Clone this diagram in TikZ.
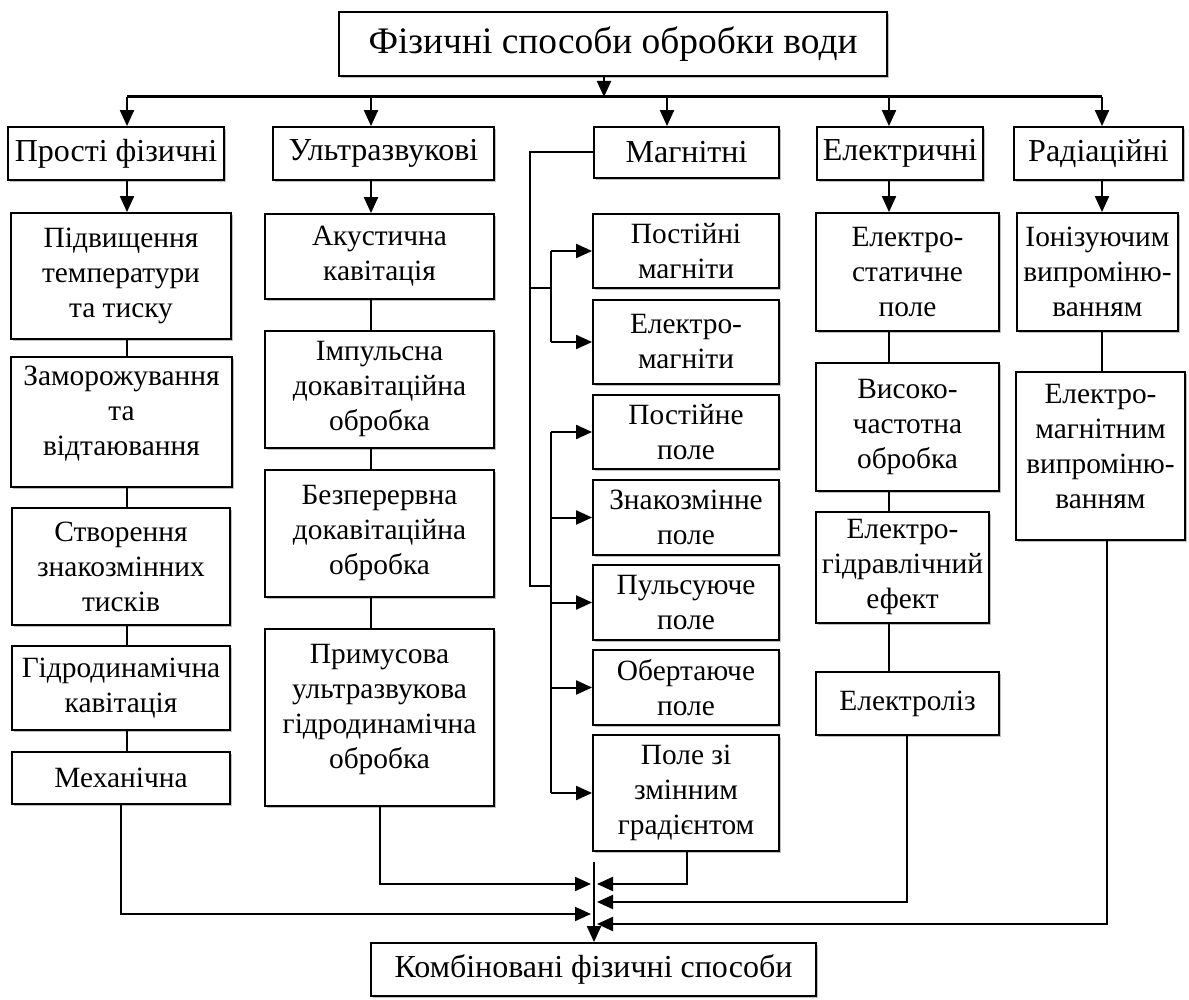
\documentclass[tikz,border=0pt]{standalone}
\usepackage{fontspec}
\setmainfont{Liberation Serif}
\usetikzlibrary{arrows.meta,shadows}
\tikzset{
  bx/.style={draw, line width=0.9pt, fill=white, inner sep=0pt, align=center,
    font=\fontsize{14.7}{17.5}\selectfont,
    drop shadow={shadow xshift=0.9pt, shadow yshift=-0.9pt, fill=black!50, opacity=0.5}},
  topfont/.style={font=\fontsize{16}{19}\selectfont},
  ln/.style={line width=1pt},
  arr/.style={line width=1pt, -{Triangle[length=8pt,width=7pt]}},
}
% #1 extra style, #2 name, #3..#6 corners in px, #7 text
\newcommand\mybox[7][]{%
  \pgfmathsetmacro\bw{(#5-#3)*0.5}%
  \pgfmathsetmacro\bh{(#6-#4)*0.5}%
  \node[bx,#1,minimum width=\bw pt,minimum height=\bh pt] (#2) at ({(#3+#5)/2},{(#4+#6)/2}) {#7};}
\begin{document}
\begin{tikzpicture}[x=0.5pt,y=-0.5pt]
\useasboundingbox (0,0) rectangle (1189,1000);

% title
\mybox[font=\fontsize{18.7}{22}\selectfont]{title}{339}{12}{887}{76}{Фізичні способи обробки води}

% top row
\mybox[topfont]{p}{8}{127}{224}{180}{Прості фізичні}
\mybox[topfont]{u}{273}{127}{494}{180}{Ультразвукові}
\mybox[topfont]{m}{594}{127}{779}{178}{Магнітні}
\mybox[topfont]{e}{817}{127}{983}{180}{Електричні}
\mybox[topfont]{r}{1014}{127}{1183}{180}{Радіаційні}

% simple physical
\mybox{p1}{11}{213}{231}{339}{Підвищення\\температури\\та тиску}
\mybox{p2}{11}{357}{232}{487}{Заморожування\\та\\відтаювання\\[-6pt]}
\mybox{p3}{12}{508}{230}{625}{Створення\\знакозмінних\\тисків}
\mybox{p4}{12}{646}{230}{730}{Гідродинамічна\\кавітація}
\mybox{p5}{12}{752}{230}{804}{Механічна}

% ultrasonic
\mybox{u1}{265}{214}{494}{299}{Акустична\\кавітація}
\mybox{u2}{265}{331}{494}{448}{Імпульсна\\докавітаційна\\обробка}
\mybox{u3}{265}{470}{494}{597}{Безперервна\\докавітаційна\\обробка}
\mybox{u4}{265}{629}{494}{806}{Примусова\\ультразвукова\\гідродинамічна\\обробка\\[-6pt]}

% magnetic
\mybox{m1}{593}{214}{779}{288}{Постійні\\магніти}
\mybox{m2}{593}{300}{779}{384}{Електро-\\магніти}
\mybox{m3}{593}{395}{779}{469}{Постійне\\поле}
\mybox{m4}{593}{480}{779}{555}{Знакозмінне\\поле}
\mybox{m5}{593}{565}{779}{640}{Пульсуюче\\поле}
\mybox{m6}{593}{650}{779}{725}{Обертаюче\\поле}
\mybox{m7}{593}{735}{779}{851}{Поле зі\\змінним\\градієнтом}

% electric
\mybox{e1}{816}{213}{999}{331}{Електро-\\статичне\\поле}
\mybox{e2}{816}{363}{999}{491}{Високо-\\частотна\\обробка}
\mybox{e3}{816}{512}{989}{623}{Електро-\\гідравлічний\\ефект}
\mybox{e4}{816}{672}{999}{735}{Електроліз}

% radiation
\mybox{r1}{1017}{213}{1178}{331}{Іонізуючим\\випроміню-\\ванням}
\mybox{r2}{1016}{372}{1185}{540}{Електро-\\магнітним\\випроміню-\\ванням\\[-8pt]}

% combined
\mybox[topfont]{k}{371}{943}{816}{996}{Комбіновані фізичні способи}

% coordinates
\coordinate (tb) at (604,97);
\coordinate (busL) at (127,97);
\coordinate (busR) at (1102,97);
\coordinate (xu) at (371,97);
\coordinate (xm) at (667,97);
\coordinate (xe) at (889,97);
\coordinate (col) at (594,862);

% title to bus
\draw[arr] (title.south -| tb) -- (tb);
\draw[line width=1.5pt] (busL) -- (busR);
\draw[arr] (busL) -- (p.north -| busL);
\draw[arr] (xu) -- (u.north -| xu);
\draw[arr] (xm) -- (m.north -| xm);
\draw[arr] (xe) -- (e.north -| xe);
\draw[arr] (busR) -- (r.north -| busR);

% simple column
\draw[arr] (p.south -| busL) -- (p1.north -| busL);
\draw[ln] (p1.south -| busL) -- (p2.north -| busL);
\draw[ln] (p2.south -| busL) -- (p3.north -| busL);
\draw[ln] (p3.south -| busL) -- (p4.north -| busL);
\draw[ln] (p4.south -| busL) -- (p5.north -| busL);

% ultrasonic column
\draw[arr] (u.south -| xu) -- (u1.north -| xu);
\draw[ln] (u1.south -| xu) -- (u2.north -| xu);
\draw[ln] (u2.south -| xu) -- (u3.north -| xu);
\draw[ln] (u3.south -| xu) -- (u4.north -| xu);

% magnetic
\coordinate (ma) at (530,586);
\coordinate (mb) at (551,586);
\coordinate (mc) at (551,288);
\draw[ln] (m.west) -| (ma) -- (mb);
\draw[ln] (mc -| ma) -- (mc);
\draw[ln] (m1.west -| mc) -- (m2.west -| mc);
\draw[ln] (m3.west -| mb) -- (m7.west -| mb);
\foreach \b in {m1,m2,m3,m4,m5,m6,m7}
  \draw[arr] (\b.west -| mc) -- (\b.west);

% electric column
\draw[arr] (e.south -| xe) -- (e1.north -| xe);
\draw[ln] (e1.south -| xe) -- (e2.north -| xe);
\draw[ln] (e2.south -| xe) -- (e3.north -| xe);
\draw[ln] (e3.south -| xe) -- (e4.north -| xe);

% radiation column
\draw[arr] (r.south -| busR) -- (r1.north -| busR);
\draw[ln] (r1.south -| busR) -- (r2.north -| busR);

% collector
\coordinate (ku) at (380,884);
\coordinate (km) at (687,884);
\coordinate (ke) at (907,902);
\coordinate (kp) at (121,914);
\coordinate (kr) at (1107,924);
\draw[arr] (col) -- (k.north -| col);
\draw[arr] (u4.south -| ku) |- ([xshift=-1.5pt]ku -| col);
\draw[arr] (m7.south -| km) |- ([xshift=1.5pt]km -| col);
\draw[arr] (e4.south -| ke) |- ([xshift=1.5pt]ke -| col);
\draw[arr] (p5.south -| kp) |- ([xshift=-1.5pt]kp -| col);
\draw[arr] (r2.south -| kr) |- ([xshift=1.5pt]kr -| col);
\end{tikzpicture}
\end{document}
